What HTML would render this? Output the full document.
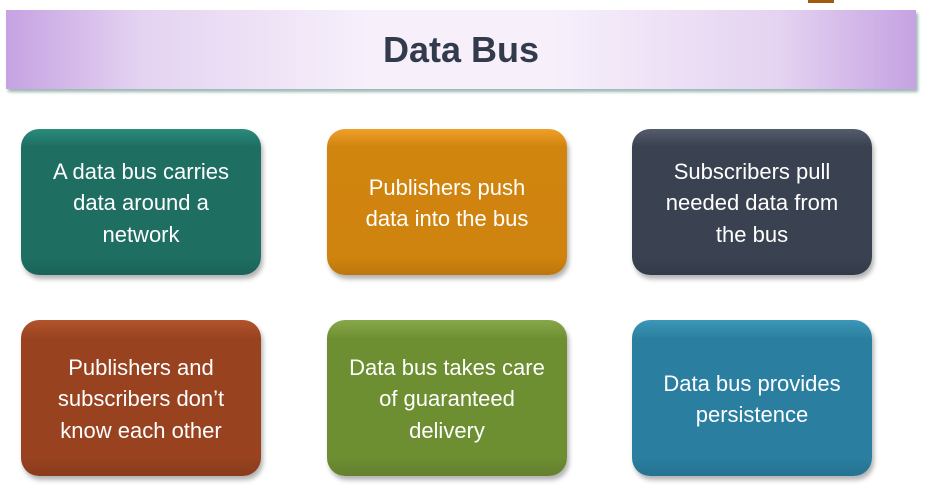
<!DOCTYPE html>
<html><head><style>
body{margin:0;width:934px;height:504px;background:#fff;position:relative;overflow:hidden;font-family:"Liberation Sans",sans-serif}
.ban{position:absolute;left:6px;top:10px;width:910px;height:79px;background:linear-gradient(90deg,#c6a2e2 0%,#e4d3f1 15%,#f7f0fb 40%,#f7f0fb 60%,#e4d3f1 85%,#c6a2e2 100%);box-shadow:2px 3px 3px #9bb8b4}
.ban div{text-align:center;line-height:79px;font-size:36px;font-weight:bold;color:#323b4c}
.b{position:absolute;width:240px;border-radius:18px;color:#fff;font-size:22px;line-height:31.5px;padding-top:2px;box-sizing:border-box;display:flex;align-items:center;justify-content:center;text-align:center;box-shadow:2px 4px 5px rgba(0,0,0,.3)}
.r1{top:129px;height:146px}.r2{top:320px;height:156px}
.c1{left:21px}.c2{left:327px}.c3{left:632px}
</style></head><body>
<div style="position:absolute;left:808px;top:0;width:26px;height:3px;background:#a05a10"></div>
<div class="ban"><div>Data Bus</div></div>
<div class="b r1 c1" style="background:linear-gradient(#2a8c7a,#1e6e62 12%,#1e6e62 88%,#1a6358)">A data bus carries<br>data around a<br>network</div>
<div class="b r1 c2" style="background:linear-gradient(#f0a02a,#d0850f 12%,#cf840f 88%,#bb760c)">Publishers push<br>data into the bus</div>
<div class="b r1 c3" style="background:linear-gradient(#555d6c,#3a4150 12%,#3a4150 88%,#333a48)">Subscribers pull<br>needed data from<br>the bus</div>
<div class="b r2 c1" style="background:linear-gradient(#b2542c,#984220 12%,#984220 88%,#893b1c)">Publishers and<br>subscribers don’t<br>know each other</div>
<div class="b r2 c2" style="background:linear-gradient(#87a84a,#6e8e32 12%,#6e8e32 88%,#64802d)">Data bus takes care<br>of guaranteed<br>delivery</div>
<div class="b r2 c3" style="background:linear-gradient(#3d97b8,#2a7fa0 12%,#2a7fa0 88%,#257290)">Data bus provides<br>persistence</div>
</body></html>
